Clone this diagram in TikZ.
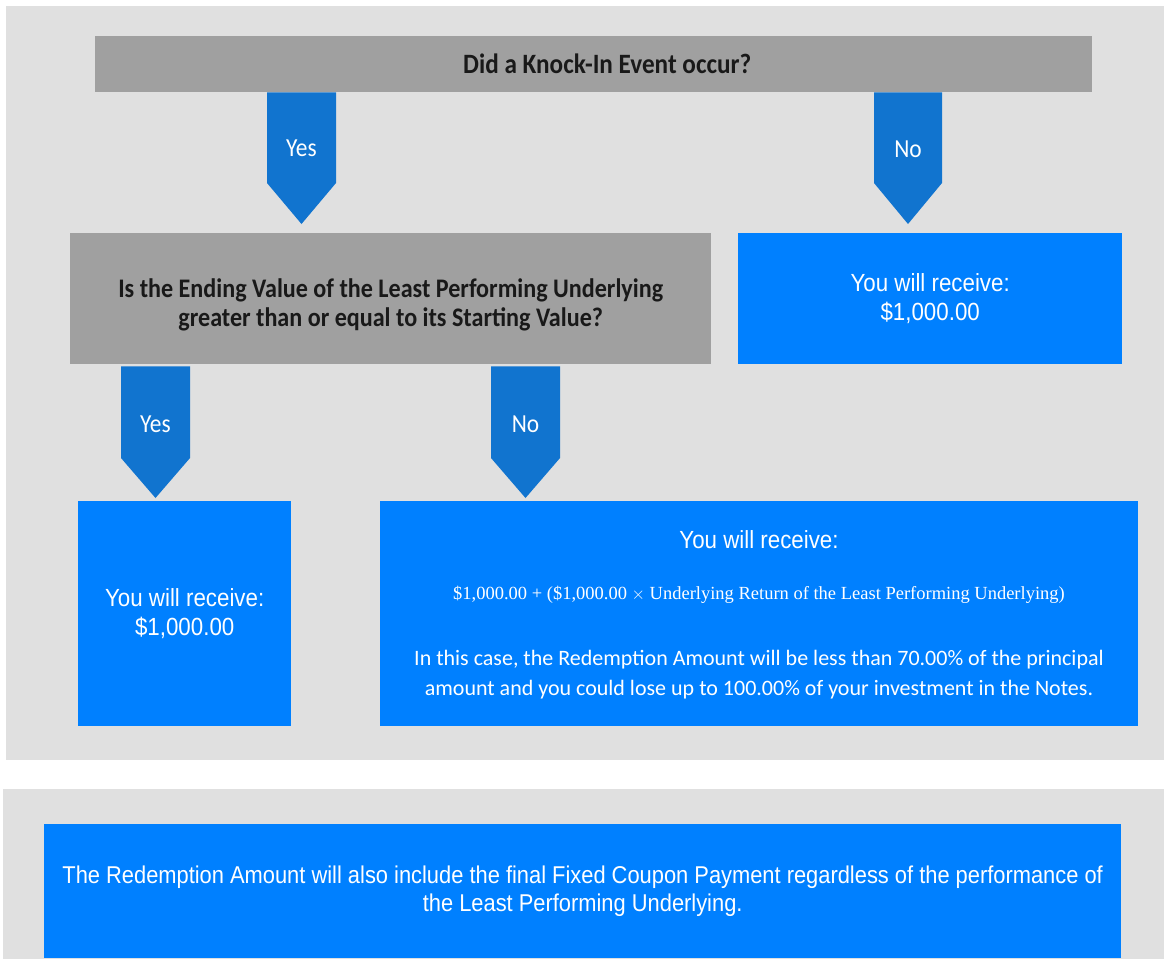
\documentclass[tikz,border=0pt]{standalone}
\usepackage{fontspec}
\setmainfont{Carlito}
\newfontfamily\questfont[FakeStretch=0.9]{Carlito}
\newfontfamily\arialfont[FakeStretch=0.9]{Liberation Sans}
\newfontfamily\serifont{Liberation Serif}
\usepackage{tikz}
\usetikzlibrary{calc,positioning}
\definecolor{panelgray}{HTML}{E0E0E0}
\definecolor{boxgray}{HTML}{A0A0A0}
\definecolor{choiceblue}{HTML}{1174CF}
\definecolor{answerblue}{HTML}{0080FF}
\tikzset{
  question/.style={fill=boxgray,text=black!90,align=center,inner sep=0pt,anchor=north west},
  answer/.style={fill=answerblue,text=white,align=center,inner sep=0pt,anchor=north west},
  receive/.style={font=\arialfont\fontsize{24.8}{29}\selectfont},
  choice/.style={fill=choiceblue},
  choicetext/.style={text=white,font=\questfont\fontsize{26}{30}\selectfont}
}
\begin{document}
\begin{tikzpicture}[x=1pt,y=-1pt]
            \useasboundingbox (0,0) rectangle (1164,959);
            \fill[panelgray] (6,6) rectangle (1164,760);
            \fill[panelgray] (3,789) rectangle (1164,959);
            % questions
            \node[question,minimum width=997pt,minimum height=56pt,font=\questfont\bfseries\fontsize{28}{32}\selectfont] (knock) at (95,36) {\hspace*{27pt}Did a Knock-In Event occur?};
            \node[question,minimum width=641pt,minimum height=131pt,font=\questfont\bfseries\fontsize{26.8}{29}\selectfont] (ending) at (70,233) {\rule{0pt}{8pt}\\[-6pt]Is the Ending Value of the Least Performing Underlying\\greater than or equal to its Starting Value?};
            % answers
            \node[answer,receive,minimum width=384pt,minimum height=131pt] (parA) at (738,233) {You will receive:\\\$1,000.00};
            \node[answer,receive,minimum width=213pt,minimum height=225pt] (parB) at (78,501) {You will receive:\\\$1,000.00};
            \node[answer,minimum width=758pt,minimum height=225pt] (loss) at (380,501) {};
            \node[receive,text=white] (lossA) at (759,540) {You will receive:};
            \node[text=white,font=\serifont\fontsize{18.5}{22}\selectfont] (lossB) at (759,595) {\$1,000.00 + (\$1,000.00 $\times$ Underlying Return of the Least Performing Underlying)};
            \node[text=white,font=\fontsize{22}{30}\selectfont,align=center] (lossC) at (759,675) {In this case, the Redemption Amount will be less than 70.00\% of the principal\\amount and you could lose up to 100.00\% of your investment in the Notes.};
            \node[answer,minimum width=1077pt,minimum height=134pt,font=\arialfont\fontsize{24.3}{28}\selectfont] (coupon) at (44,824) {The Redemption Amount will also include the final Fixed Coupon Payment regardless of the performance of\\the Least Performing Underlying.};
            % choices
            \coordinate (yesA) at (301.5,224);
            \coordinate (noA) at (908,224);
            \coordinate (yesB) at (155.5,498);
            \coordinate (noB) at (525.5,498);
            \fill[choice] ($(knock.south -| yesA)+(-34.5,0)$) -- ($(knock.south -| yesA)+(34.5,0)$) -- ($(yesA)+(34.5,-41)$) -- (yesA) -- ($(yesA)+(-34.5,-41)$) -- cycle;
            \fill[choice] ($(knock.south -| noA)+(-34,0)$) -- ($(knock.south -| noA)+(34,0)$) -- ($(noA)+(34,-41)$) -- (noA) -- ($(noA)+(-34,-41)$) -- cycle;
            \fill[choice] ($(ending.south -| yesB)+(-34.5,2)$) -- ($(ending.south -| yesB)+(34.5,2)$) -- ($(yesB)+(34.5,-40)$) -- (yesB) -- ($(yesB)+(-34.5,-40)$) -- cycle;
            \fill[choice] ($(ending.south -| noB)+(-34.5,2)$) -- ($(ending.south -| noB)+(34.5,2)$) -- ($(noB)+(34.5,-40)$) -- (noB) -- ($(noB)+(-34.5,-40)$) -- cycle;
            \node[choicetext] (yesAtext) at (301.5,148) {Yes};
            \node[choicetext] (noAtext) at (908,149) {No};
            \node[choicetext] (yesBtext) at (155.5,424) {Yes};
            \node[choicetext] (noBtext) at (525.5,424) {No};
\end{tikzpicture}
\end{document}
